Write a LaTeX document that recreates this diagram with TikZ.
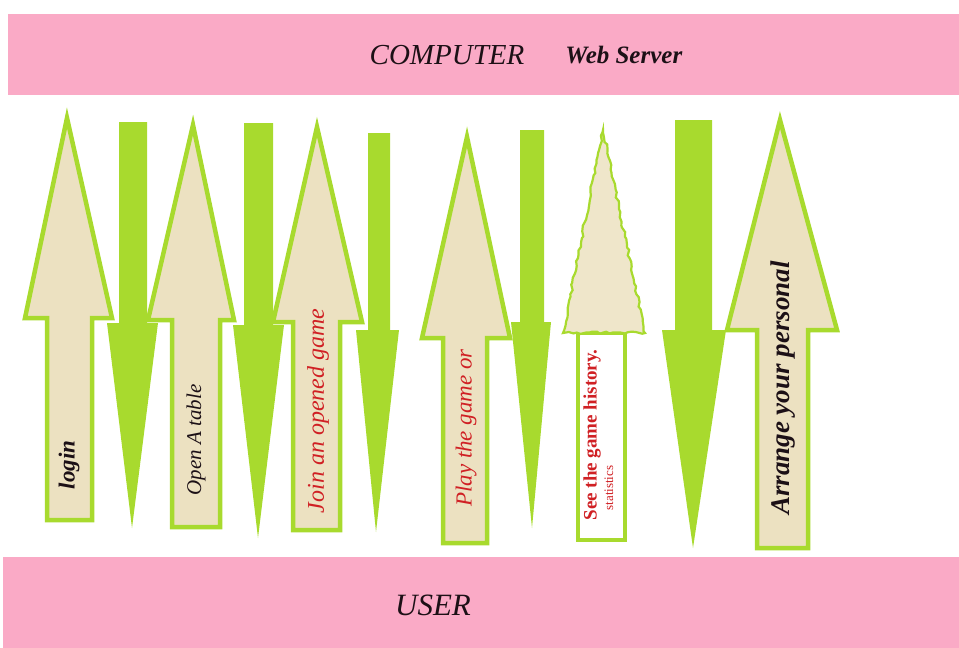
\documentclass[tikz,border=0pt]{standalone}
\usepackage{fontspec}
\setmainfont{Liberation Serif}
\usetikzlibrary{positioning, decorations.pathmorphing}
\definecolor{GameGreen}{RGB}{168, 218, 46}
\definecolor{GameBeige}{RGB}{236, 225, 193}
\definecolor{GamePink}{RGB}{250, 170, 198}
\definecolor{GameRed}{RGB}{208, 32, 36}
\definecolor{GameInk}{RGB}{28, 16, 22}

\begin{document}
\begin{tikzpicture}[x=1pt,y=-1pt,
  band/.style={fill=GamePink},
  upArrow/.style={fill=GameBeige, draw=GameGreen, line width=4.5pt, line join=miter},
  downArrow/.style={fill=GameGreen},
  roughHead/.style={fill=GameBeige!85!white, draw=GameGreen, line width=2.2pt,
    decorate, decoration={random steps, segment length=4pt, amplitude=1.4pt}},
  stepText/.style={rotate=90, inner sep=0pt, font=\itshape}]
  \path[use as bounding box] (0,0) rectangle (959,648);
  % server and user bands
  \fill[band] (8,14) rectangle (959,95);
  \fill[band] (3,557) rectangle (959,648);
  \node[font=\itshape\fontsize{29}{33}\selectfont, text=GameInk] (computer) at (447,55) {COMPUTER};
  \node[font=\itshape\bfseries\fontsize{25}{29}\selectfont, text=GameInk, right=34pt of computer] (webServer) {Web Server};
  \node[font=\itshape\fontsize{31}{35}\selectfont, text=GameInk] (user) at (433,605) {USER};
  % requests from the user (up)
  \draw[upArrow] (47,520) -- (47,318) -- (25,318) -- (67,118) -- (112,318) -- (92,318) -- (92,520) -- cycle;
  \draw[upArrow] (172,527) -- (172,320) -- (148,320) -- (193,125) -- (234,320) -- (220,320) -- (220,527) -- cycle;
  \draw[upArrow] (293,530) -- (293,322) -- (273,322) -- (317,127) -- (362,322) -- (340,322) -- (340,530) -- cycle;
  \draw[upArrow] (443,543) -- (443,338) -- (422,338) -- (467,137) -- (510,338) -- (487,338) -- (487,543) -- cycle;
  \draw[fill=white, draw=GameGreen, line width=4.5pt] (578,333) rectangle (625,540);
  \path[roughHead] (563,333) -- (603,130) -- (645,333) -- cycle;
  \draw[upArrow] (757,548) -- (757,330) -- (727,330) -- (780,120) -- (837,330) -- (808,330) -- (808,548) -- cycle;
  % answers from the server (down)
  \fill[downArrow] (119,122) -- (147,122) -- (147,323) -- (158,323) -- (132,528) -- (107,323) -- (119,323) -- cycle;
  \fill[downArrow] (244,123) -- (273,123) -- (273,325) -- (284,325) -- (258,538) -- (233,325) -- (244,325) -- cycle;
  \fill[downArrow] (368,133) -- (390,133) -- (390,330) -- (399,330) -- (376,532) -- (356,330) -- (368,330) -- cycle;
  \fill[downArrow] (520,130) -- (544,130) -- (544,322) -- (551,322) -- (532,528) -- (511,322) -- (520,322) -- cycle;
  \fill[downArrow] (675,120) -- (712,120) -- (712,330) -- (726,330) -- (693,548) -- (662,330) -- (675,330) -- cycle;
  % labels
  \node[stepText, font=\itshape\bfseries\fontsize{23}{27}\selectfont, text=GameInk] (login) at (69,465) {login};
  \node[stepText, font=\itshape\fontsize{21}{25}\selectfont, text=GameInk] (openTable) at (196,440) {Open A table};
  \node[stepText, font=\itshape\fontsize{24}{28}\selectfont, text=GameRed] (joinGame) at (318,411) {Join an opened game};
  \node[stepText, font=\itshape\fontsize{23}{27}\selectfont, text=GameRed] (playGame) at (466,428) {Play the game or};
  \node[stepText, font=\bfseries\fontsize{19}{22}\selectfont, text=GameRed] (history) at (592,435) {See the game history.};
  \node[stepText, font=\fontsize{13}{15}\selectfont, text=GameRed] (stats) at (609,488) {statistics};
  \node[stepText, font=\itshape\bfseries\fontsize{27}{31}\selectfont, text=GameInk] (arrange) at (783,388) {Arrange your personal};
\end{tikzpicture}
\end{document}
